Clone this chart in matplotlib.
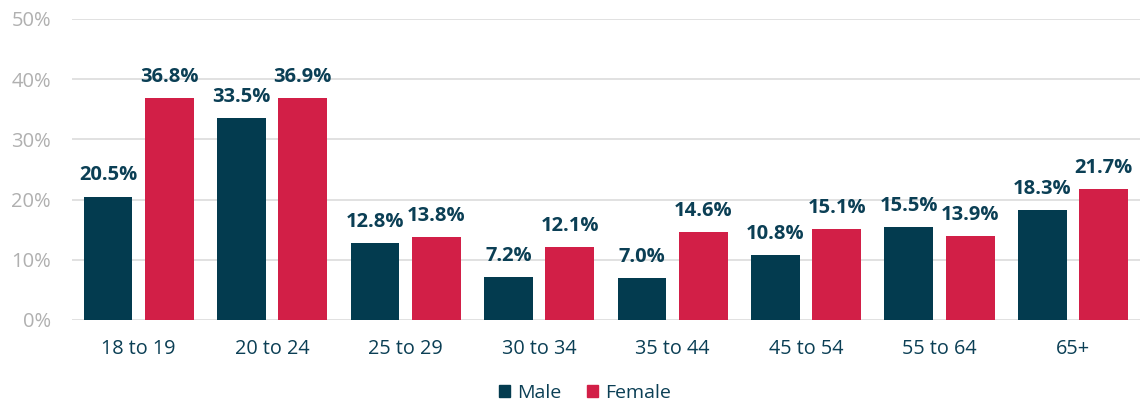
import numpy as np
import matplotlib.pyplot as plt
from matplotlib.patches import Patch

# data
age_groups = ["18 to 19", "20 to 24", "25 to 29", "30 to 34",
              "35 to 44", "45 to 54", "55 to 64", "65+"]
male = [20.5, 33.5, 12.8, 7.2, 7.0, 10.8, 15.5, 18.3]
female = [36.8, 36.9, 13.8, 12.1, 14.6, 15.1, 13.9, 21.7]

MALE_C = "#033b4f"
FEMALE_C = "#d21f47"
TEXT_C = "#0b3f55"

plt.rcParams["font.family"] = ["Open Sans", "DejaVu Sans"]

fig = plt.figure(figsize=(11.42, 4.04), dpi=100)
ax = fig.add_axes([0.063, 0.208, 0.935, 0.745])

x = np.arange(len(age_groups))
w = 0.365
off = 0.23
b1 = ax.bar(x - off, male, w, color=MALE_C, zorder=3)
b2 = ax.bar(x + off, female, w, color=FEMALE_C, zorder=3)

for bars, vals in ((b1, male), (b2, female)):
    for r, v in zip(bars, vals):
        ax.annotate(f"{v:.1f}%", (r.get_x() + r.get_width() / 2, v),
                    xytext=(0, 8), textcoords="offset points",
                    ha="center", va="bottom", fontsize=14.5,
                    fontweight="bold", color=TEXT_C)

ax.set_xlim(-0.5, len(age_groups) - 0.5)
ax.set_ylim(0, 50)
ax.set_yticks(range(0, 51, 10))
ax.set_yticklabels([f"{t}%" for t in range(0, 51, 10)])
ax.set_xticks(x)
ax.set_xticklabels(age_groups)
ax.tick_params(axis="y", length=0, pad=15, labelsize=14.5, labelcolor="#b0b0b0")
ax.tick_params(axis="x", length=0, pad=14, labelsize=14.3, labelcolor=TEXT_C)
ax.grid(axis="y", color="#dcdcdc", linewidth=1.2, zorder=0)
for s in ax.spines.values():
    s.set_visible(False)

handles = [Patch(color=MALE_C, label="Male"), Patch(color=FEMALE_C, label="Female")]
leg = fig.legend(handles=handles, loc="center", bbox_to_anchor=(0.512, 0.027),
                 ncol=2, frameon=False, fontsize=14, handlelength=0.6,
                 handleheight=0.6, handletextpad=0.35, columnspacing=1.3)
for t in leg.get_texts():
    t.set_color(TEXT_C)

fig.savefig("out.png", dpi=100)
